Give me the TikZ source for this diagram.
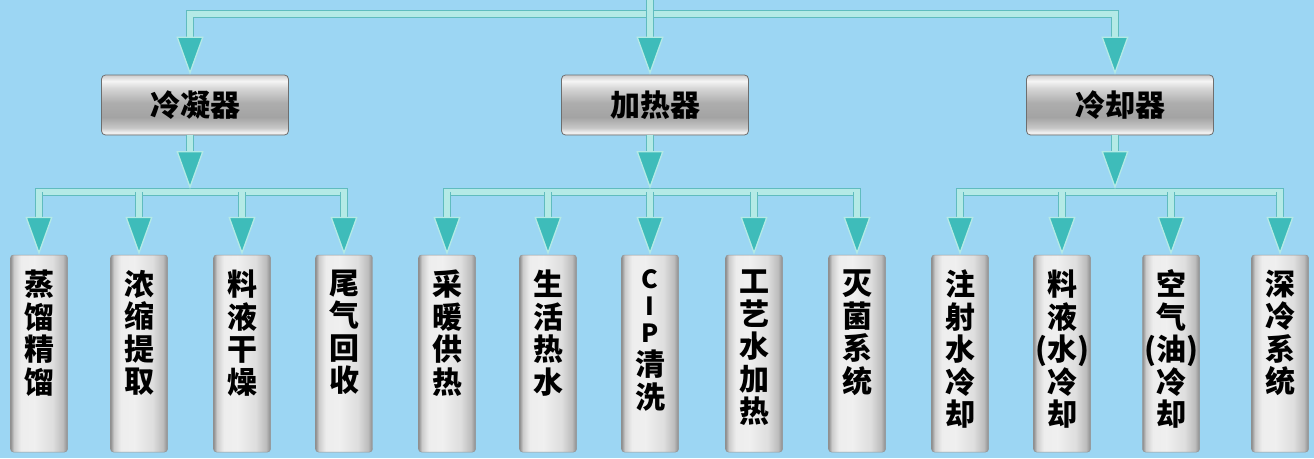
\documentclass[tikz,border=0pt]{standalone}
\usepackage{fontspec}
\newfontfamily\cjk{Noto Sans CJK SC}
\usetikzlibrary{arrows.meta}
\definecolor{bgc}{RGB}{156,214,243}
\definecolor{tealE}{RGB}{96,188,190}
\definecolor{tealL}{RGB}{180,234,230}
\definecolor{tealF}{RGB}{62,188,186}
\definecolor{boxE}{RGB}{110,110,110}
\definecolor{leafE}{RGB}{150,150,150}
\pgfdeclareverticalshading{midsh}{100bp}{rgb(0bp)=(0.85,0.85,0.85); rgb(25bp)=(0.85,0.85,0.85); rgb(27bp)=(0.95,0.95,0.95); rgb(31bp)=(0.78,0.78,0.78); rgb(40bp)=(0.64,0.64,0.64); rgb(52bp)=(0.68,0.68,0.68); rgb(64bp)=(0.84,0.84,0.84); rgb(70bp)=(0.96,0.96,0.96); rgb(75bp)=(0.80,0.80,0.80); rgb(100bp)=(0.80,0.80,0.80)}
\pgfdeclarehorizontalshading{leafsh}{100bp}{rgb(0bp)=(0.55,0.55,0.55); rgb(25bp)=(0.55,0.55,0.55); rgb(28bp)=(0.80,0.80,0.80); rgb(34bp)=(0.93,0.93,0.93); rgb(46bp)=(0.94,0.94,0.94); rgb(62bp)=(0.87,0.87,0.87); rgb(71bp)=(0.74,0.74,0.74); rgb(75bp)=(0.55,0.55,0.55); rgb(100bp)=(0.55,0.55,0.55)}
\begin{document}
\begin{tikzpicture}[x=1pt,y=1pt,
  midbox/.style={shading=midsh, draw=boxE, line width=0.8pt, rounded corners=4pt,
    minimum width=187pt, minimum height=60pt, inner sep=0pt,
    font=\cjk\bfseries\fontsize{30}{32}\selectfont},
  leafbox/.style={shading=leafsh, draw=leafE, line width=0.5pt, rounded corners=3pt,
    minimum width=57pt, minimum height=197pt, inner sep=0pt},
  leaftxt/.style={anchor=north, inner sep=0pt, align=center,
    font=\cjk\bfseries\fontsize{30}{32.5}\selectfont},
  lattxt/.style={anchor=north, inner sep=0pt, align=center,
    font=\cjk\bfseries\fontsize{25}{27}\selectfont},
  shaft/.style={draw=tealE, line width=1.2pt, double=tealL, double distance=5.5pt},
  head/.style={draw=tealL, line width=0.2pt,
    -{Triangle[width=27pt,length=38pt,fill=tealF,color=tealL,line width=1.3pt]}}]
\useasboundingbox (0,0) rectangle (1314,-458);
\fill[bgc] (0,0) rectangle (1314,-458);
\coordinate (root) at (650,0);
\coordinate (topbus) at (650,-14);
\coordinate (busy) at (0,-192);
\coordinate (tipy) at (0,-189);
\node[midbox] (m1) at (195,-105) {冷凝器};
\node[midbox] (m2) at (655,-105) {加热器};
\node[midbox] (m3) at (1120,-105) {冷却器};
\foreach \n/\x in {1/39,2/139,3/242,4/344,5/447,6/548,7/650,8/754,9/857,10/960,11/1062,12/1171,13/1280}
  \node[leafbox] (l\n) at (\x,-353.5) {};
\node[leaftxt] (t1) at ([yshift=-15pt]l1.north) {蒸\\馏\\精\\馏};
\node[leaftxt] (t2) at ([yshift=-15pt]l2.north) {浓\\缩\\提\\取};
\node[leaftxt] (t3) at ([yshift=-15pt]l3.north) {料\\液\\干\\燥};
\node[leaftxt] (t4) at ([yshift=-15pt]l4.north) {尾\\气\\回\\收};
\node[leaftxt] (t5) at ([yshift=-15pt]l5.north) {采\\暖\\供\\热};
\node[leaftxt] (t6) at ([yshift=-15pt]l6.north) {生\\活\\热\\水};
\node[lattxt] (t7a) at ([yshift=-15pt]l7.north) {C\\I\\P};
\node[leaftxt] (t7) at ([yshift=-7pt]t7a.south) {清\\洗};
\node[leaftxt] (t8) at ([yshift=-15pt]l8.north) {工\\艺\\水\\加\\热};
\node[leaftxt] (t9) at ([yshift=-15pt]l9.north) {灭\\菌\\系\\统};
\node[leaftxt] (t10) at ([yshift=-15pt]l10.north) {注\\射\\水\\冷\\却};
\node[leaftxt] (t11) at ([yshift=-15pt]l11.north) {料\\液\\(水)\\冷\\却};
\node[leaftxt] (t12) at ([yshift=-15pt]l12.north) {空\\气\\(油)\\冷\\却};
\node[leaftxt] (t13) at ([yshift=-15pt]l13.north) {深\\冷\\系\\统};
% top level connectors
\coordinate (a1) at ([xshift=-5pt]m1.north);
\coordinate (a2) at ([xshift=-5pt]m2.north);
\coordinate (a3) at ([xshift=-5pt]m3.north);
\coordinate (s1) at ([xshift=-5pt]m1.south);
\coordinate (s2) at ([xshift=-5pt]m2.south);
\coordinate (s3) at ([xshift=-5pt]m3.south);
\draw[shaft, shorten >=30pt] (topbus) -| (a1); \draw[head] (topbus) -| (a1);
\draw[shaft, shorten >=30pt] (topbus) -| (a3); \draw[head] (topbus) -| (a3);
\draw[shaft, shorten >=30pt] (root) -- (a2); \draw[head] (root) -- (a2);
% group buses
\draw[shaft] (l1.north |- busy) ++(0,-10) |- (l4.north |- busy) -- ++(0,-10);
\draw[shaft] (l5.north |- busy) ++(0,-10) |- (l9.north |- busy) -- ++(0,-10);
\draw[shaft] (l10.north |- busy) ++(0,-10) |- (l13.north |- busy) -- ++(0,-10);
\foreach \i in {1,...,13}{
  \draw[shaft, shorten >=30pt] (l\i.north |- busy) -- (l\i.north);
  \draw[head] (l\i.north |- busy) -- (l\i.north);
}
\foreach \i in {1,2,3}{
  \draw[shaft, shorten >=30pt] (s\i) -- (s\i |- tipy);
  \draw[head] (s\i) -- (s\i |- tipy);
}
\end{tikzpicture}
\end{document}
